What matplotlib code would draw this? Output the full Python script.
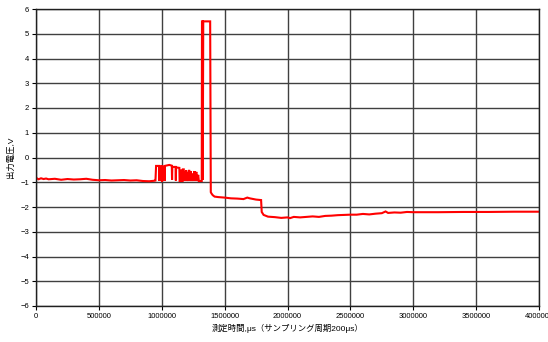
import matplotlib
matplotlib.use("Agg")
import matplotlib.pyplot as plt

# Output voltage trace, time in microseconds
time_us = [
    0, 20000, 40000, 60000, 80000, 100000, 150000, 200000, 250000, 300000,
    350000, 400000, 450000, 500000, 550000, 600000, 650000, 700000, 750000,
    800000, 850000, 900000, 940000, 950000,
    955000, 980000, 982000, 984000, 1000000, 1002000, 1004000, 1020000,
    1022000, 1024000, 1060000, 1080000, 1082000, 1084000, 1110000, 1112000,
    1114000, 1140000, 1142000, 1150000, 1152000, 1160000, 1162000, 1166000,
    1168000, 1175000, 1177000, 1180000, 1185000, 1187000, 1195000, 1200000,
    1205000, 1210000, 1218000, 1222000, 1230000, 1235000, 1245000, 1250000,
    1260000, 1265000, 1275000, 1280000, 1290000, 1295000, 1318000,
    1320000, 1324000, 1326000, 1330000, 1385000, 1390000,
    1395000, 1405000, 1420000, 1450000, 1500000, 1550000, 1600000, 1650000,
    1680000, 1700000, 1750000, 1790000, 1795000, 1810000, 1845000, 1900000,
    1950000, 2000000, 2020000, 2050000, 2100000, 2150000, 2200000, 2250000,
    2300000, 2350000, 2400000, 2450000, 2500000, 2550000, 2600000, 2650000,
    2700000, 2750000, 2780000, 2800000, 2850000, 2900000, 2950000, 3000000,
    3200000, 3400000, 3600000, 3800000, 4000000,
]
voltage = [
    -0.82, -0.88, -0.84, -0.87, -0.85, -0.88, -0.86, -0.90, -0.87, -0.89,
    -0.88, -0.86, -0.90, -0.92, -0.91, -0.93, -0.92, -0.91, -0.93,
    -0.92, -0.95, -0.96, -0.94, -0.93,
    -0.34, -0.34, -0.95, -0.36, -0.36, -0.97, -0.36, -0.37,
    -0.95, -0.34, -0.30, -0.33, -0.90, -0.38, -0.38, -0.93,
    -0.40, -0.42, -0.95, -0.95, -0.50, -0.55, -0.95, -0.95,
    -0.48, -0.48, -0.95, -0.60, -0.60, -0.95, -0.52, -0.95,
    -0.60, -0.95, -0.50, -0.95, -0.55, -0.95, -0.65, -0.95,
    -0.55, -0.95, -0.58, -0.95, -0.70, -0.95, -0.95,
    5.50, 5.50, -0.90, 5.50, 5.50, -1.40,
    -1.45, -1.52, -1.58, -1.60, -1.62, -1.65, -1.66, -1.68,
    -1.62, -1.65, -1.70, -1.72, -2.20, -2.32, -2.39, -2.41,
    -2.44, -2.42, -2.45, -2.40, -2.42, -2.40, -2.38, -2.40,
    -2.36, -2.35, -2.33, -2.32, -2.31, -2.31, -2.28, -2.30,
    -2.27, -2.25, -2.18, -2.24, -2.22, -2.23, -2.20, -2.21,
    -2.21, -2.20, -2.20, -2.19, -2.19,
]

x_ticks = list(range(0, 4000001, 500000))
y_ticks = list(range(-6, 7))

fonts = ["Liberation Sans", "Noto Sans CJK JP"]
plt.rcParams["font.family"] = fonts
plt.rcParams["axes.unicode_minus"] = True

fig = plt.figure(figsize=(5.48, 3.42), dpi=100)
ax = fig.add_axes([36 / 548, 1 - 306 / 342, (539 - 36) / 548, (306 - 9) / 342])

ax.plot(time_us, voltage, color="#ff0000", linewidth=1.5, solid_joinstyle="miter")

ax.set_xlim(0, 4000000)
ax.set_ylim(-6, 6)
ax.set_xticks(x_ticks)
ax.set_xticklabels([str(t) for t in x_ticks])
ax.set_yticks(y_ticks)
ax.set_yticklabels([str(t).replace("-", "\u2212") for t in y_ticks])
ax.tick_params(labelsize=5.5, length=3, width=0.8, direction="out", pad=2)
ax.grid(True, color="#404040", linewidth=1)
ax.set_axisbelow(True)
for s in ax.spines.values():
    s.set_color("#202020")
    s.set_linewidth(1)

ax.set_xlabel("測定時間,μs（サンプリング周期200μs）", fontsize=6, labelpad=3)
ax.set_ylabel("出力電圧,V", fontsize=6, labelpad=4)

fig.savefig("out.png", dpi=100)
